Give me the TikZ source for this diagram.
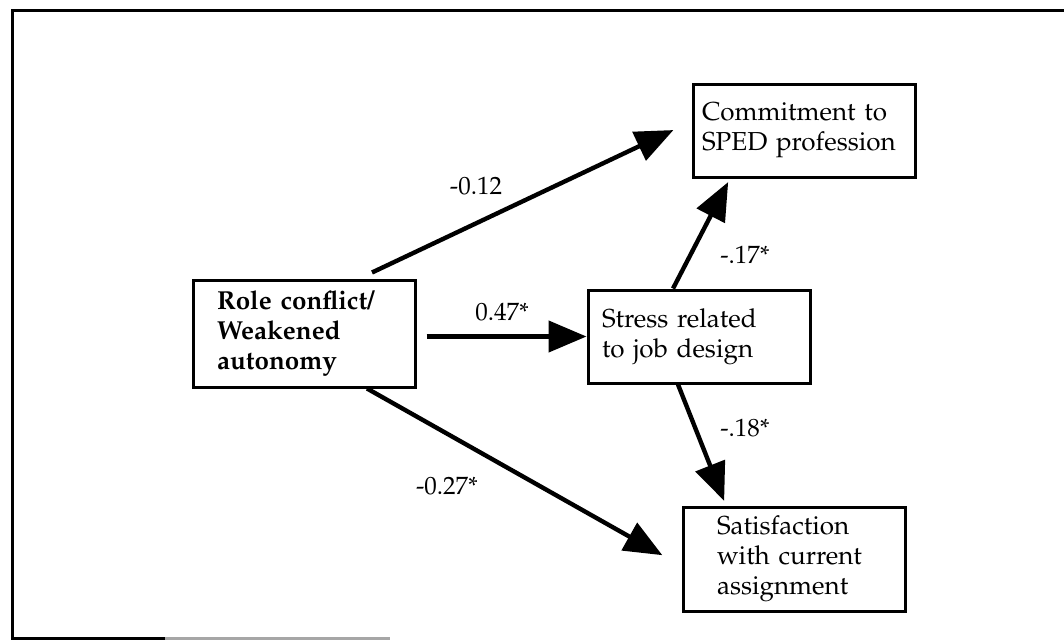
\documentclass[tikz,border=0pt]{standalone}
\usepackage[T1]{fontenc}
\renewcommand{\rmdefault}{ppl}
\usetikzlibrary{arrows.meta}
\tikzset{
  box/.style={draw, line width=3pt, rectangle, minimum width=222pt, align=left,
    font=\fontsize{26}{30}\selectfont, inner ysep=0pt},
  arr/.style={line width=4.4pt, -{Triangle[length=38pt,width=31pt]}},
  lab/.style={font=\fontsize{25}{30}\selectfont, inner sep=0pt},
  frame/.style={line width=3pt}
}
\begin{document}
\begin{tikzpicture}[x=1pt,y=-1pt]
\useasboundingbox (0,0) rectangle (1064,641);
% frame
\draw[frame] (1066,10) -- (12,10) -- (12,638) -- (165,638);
\draw[frame, gray!70] (165,638) -- (390,638);
% boxes
\node[box, minimum height=107pt, inner xsep=24pt, text width=174pt, font=\fontsize{26}{30}\selectfont\bfseries]
  (role) at (304,333.5) {Role conflict/\\Weakened\\autonomy};
\node[box, minimum height=93pt, inner xsep=14pt, text width=194pt]
  (stress) at (699,336.5) {Stress related\\to job design};
\node[box, minimum height=93pt, inner xsep=9pt, text width=204pt]
  (com) at (804,130.5) {Commitment to\\SPED profession};
\node[box, minimum height=104pt, inner xsep=34pt, text width=154pt]
  (sat) at (794,559) {Satisfaction\\with current\\assignment};
% connectors
\draw[arr, shorten >=20pt] ([xshift=68pt,yshift=6pt]role.north) -- ([yshift=9pt]com.west);
\draw[arr] ([xshift=10pt]role.east |- stress.west) -- (stress.west);
\draw[arr, shorten >=22pt] ([xshift=63pt]role.south) -- ([yshift=-7pt]sat.west);
\draw[arr, shorten >=4pt] ([xshift=-26pt]stress.north) -- ([xshift=-74pt]com.south);
\draw[arr, shorten >=5pt] ([xshift=-21pt]stress.south) -- ([xshift=-68pt]sat.north);
% labels
\node[lab] (l1) at (476,186) {-0.12};
\node[lab] (l2) at (502,312) {0.47*};
\node[lab] (l3) at (447,486) {-0.27*};
\node[lab] (l4) at (745,255) {-.17*};
\node[lab] (l5) at (745,428) {-.18*};
\end{tikzpicture}
\end{document}
